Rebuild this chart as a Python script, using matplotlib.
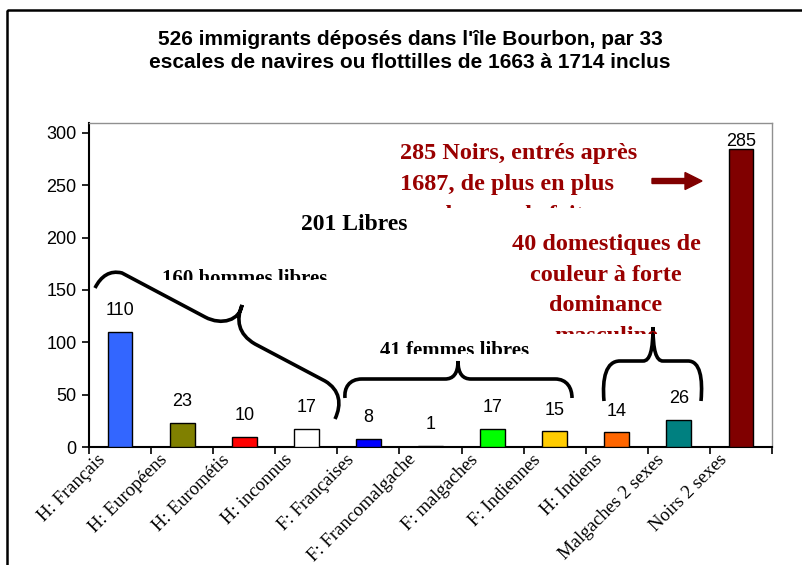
import numpy as np
import matplotlib
matplotlib.use("Agg")
import matplotlib.pyplot as plt
from matplotlib.path import Path
from matplotlib.patches import PathPatch, FancyArrow, Rectangle
from matplotlib.transforms import Affine2D, Bbox, TransformedBbox, ScaledTranslation

# data
categories = ["H: Français", "H: Européens", "H: Eurométis", "H: inconnus",
              "F: Françaises", "F: Francomalgache", "F: malgaches", "F: Indiennes",
              "H: Indiens", "Malgaches 2 sexes", "Noirs 2 sexes"]
values = [110, 23, 10, 17, 8, 1, 17, 15, 14, 26, 285]
colors = ["#3366FF", "#808000", "#FF0000", "#FFFFFF", "#0000FF", "#333333",
          "#00FF00", "#FFCC00", "#FF6600", "#008080", "#800000"]
yticks = [0, 50, 100, 150, 200, 250, 300]

title = "526 immigrants déposés dans l'île Bourbon, par 33\nescales de navires ou flottilles de 1663 à 1714 inclus"
noirs_lines = ["285 Noirs, entrés après", "1687, de plus en plus", "nombreux, de fait"]
domest_lines = ["40 domestiques de", "couleur à forte", "dominance", "masculine"]

W, H = 802, 565
SANS = "Liberation Sans"
SERIF = "Liberation Serif"
DARKRED = "#990000"

fig = plt.figure(figsize=(W / 100, H / 100), dpi=100)
# pixel coordinates, origin top-left like the reference image
px = Affine2D().scale(1 / W, -1 / H).translate(0, 1) + fig.transFigure

ax = fig.add_axes([89 / W, 1 - 447 / H, (772 - 89) / W, (447 - 123) / H])
x = np.arange(len(categories))
ax.bar(x, values, width=0.4, color=colors, edgecolor="black", linewidth=1, zorder=3)
for xi, v in zip(x, values):
    ax.text(xi, min(v + 16, 287.5), str(v), ha="center", va="baseline",
            fontsize=13, family=SANS)

ax.set_xlim(-0.5, len(categories) - 0.5)
ax.set_ylim(0, 309.5)
ax.set_yticks(yticks)
ax.set_yticklabels([str(t) for t in yticks], fontsize=13, family=SANS)
ax.tick_params(axis="y", direction="out", length=5, width=1.2, pad=4)

# boundary ticks without labels, labels on the category centres
ax.set_xticks(np.arange(-0.5, len(categories), 1))
ax.set_xticklabels([])
ax.tick_params(axis="x", which="major", direction="out", length=5, width=1.2)
ax.set_xticks(x, minor=True)
ax.set_xticklabels(categories, minor=True, rotation=45, ha="right", va="top",
                   rotation_mode="anchor", fontsize=13.5, family=SERIF)
ax.tick_params(axis="x", which="minor", length=0, pad=3)
shift = ScaledTranslation(-23 / 100, 0, fig.dpi_scale_trans)
for lab in ax.get_xticklabels(minor=True):
    lab.set_transform(lab.get_transform() + shift)

for side in ["left", "bottom"]:
    ax.spines[side].set_linewidth(1.5)
for side in ["top", "right"]:
    ax.spines[side].set_color("#909090")
    ax.spines[side].set_linewidth(1)

# chart frame
fig.add_artist(Rectangle((7, 10), 900, 700, transform=px, fill=False,
                         edgecolor="black", linewidth=1.8, clip_on=False))

fig.text(410 / W, 1 - 51 / H, title, ha="center", va="center", fontsize=15,
         fontweight="bold", family=SANS, linespacing=1.25)


def clipped(xp, yp, s, clip, **kw):
    t = fig.text(xp, yp, s, transform=px, **kw)
    t.set_clip_box(TransformedBbox(Bbox.from_extents(*clip), px))
    t.set_clip_on(True)
    return t


for i, line in enumerate(noirs_lines):
    clipped(400, 159 + 31 * i, line, (380, 120, 660, 208), ha="left", va="baseline",
            fontsize=17.5, fontweight="bold", family=SERIF, color=DARKRED)
for i, line in enumerate(domest_lines):
    clipped(606, 250 + 30.7 * i, line, (480, 215, 740, 334), ha="center", va="baseline",
            fontsize=17.5, fontweight="bold", family=SERIF, color=DARKRED)

fig.text(354, 230, "201 Libres", transform=px, ha="center", va="baseline",
         fontsize=17, fontweight="bold", family=SERIF)
clipped(162, 284, "160 hommes libres", (140, 250, 360, 280), ha="left", va="baseline",
        fontsize=15, fontweight="bold", family=SERIF)
clipped(380, 356, "41 femmes libres", (360, 320, 560, 354), ha="left", va="baseline",
        fontsize=15, fontweight="bold", family=SERIF)

# braces
M, L, C = Path.MOVETO, Path.LINETO, Path.CURVE4
brace1 = [((95, 288), M), ((101, 276), C), ((110, 270), C), ((122, 273), C),
          ((205, 317), L), ((222, 326), C), ((240, 320), C), ((242, 305), C),
          ((236, 320), C), ((238, 334), C), ((255, 344), C),
          ((325, 381), L), ((340, 390), C), ((342, 404), C), ((335, 419), C)]
brace2 = [((345, 398), M), ((344, 388), C), ((349, 379), C), ((362, 379), C),
          ((445, 379), L), ((453, 379), C), ((458, 374), C), ((458, 361), C),
          ((458, 374), C), ((463, 379), C), ((471, 379), C),
          ((555, 379), L), ((567, 379), C), ((572, 388), C), ((572, 398), C)]
brace3 = [((604, 401), M), ((602, 378), C), ((606, 361), C), ((620, 361), C),
          ((643, 361), L), ((650, 361), C), ((653, 350), C), ((653, 327), C),
          ((653, 350), C), ((656, 361), C), ((663, 361), C),
          ((688, 361), L), ((700, 361), C), ((703, 378), C), ((701, 401), C)]
for b in [brace1, brace2, brace3]:
    verts, codes = zip(*b)
    fig.add_artist(PathPatch(Path(verts, codes), transform=px, fill=False,
                             edgecolor="black", linewidth=2.6, capstyle="butt"))

fig.add_artist(FancyArrow(652, 181, 50, 0, width=5, head_width=17, head_length=17,
                          length_includes_head=True, transform=px, color="#800000"))

fig.savefig("out.png", dpi=100)
